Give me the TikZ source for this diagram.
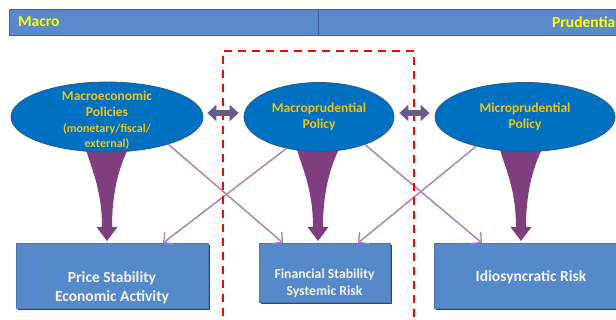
\documentclass[tikz,border=0pt]{standalone}
\usepackage{fontspec}
\setmainfont{Carlito}
\usetikzlibrary{shapes.geometric,arrows.meta,calc}
\definecolor{barblue}{HTML}{5A8ACB}
\definecolor{barline}{HTML}{3E6394}
\definecolor{boxblue}{HTML}{5689C9}
\definecolor{boxline}{HTML}{4A78B0}
\definecolor{boxshadow}{HTML}{2F4A6A}
\definecolor{ellblue}{HTML}{0070C0}
\definecolor{ellline}{HTML}{2A5B8C}
\definecolor{elltext}{HTML}{F2C314}
\definecolor{bartext}{HTML}{FFFF00}
\definecolor{funnelc}{HTML}{7F3F7F}
\definecolor{thinc}{HTML}{B388B8}
\definecolor{dblc}{HTML}{6A5A8C}
\definecolor{boxtext}{HTML}{F4F4F4}
\tikzset{
  bar/.style={fill=barblue, draw=barline, line width=0.8pt, inner sep=0pt, minimum height=26pt, anchor=north west},
  bartxt/.style={text=bartext, font=\fontsize{15.5}{18}\selectfont\bfseries, inner sep=0pt},
  pol/.style={ellipse, fill=ellblue, draw=ellline, line width=0.8pt, inner sep=0pt, text=elltext, align=center, font=\fontsize{13.5}{16}\selectfont\bfseries},
  poltxt/.style={inner sep=0pt, text=elltext, align=center, font=\fontsize{13.5}{16}\selectfont\bfseries},
  goal/.style={fill=boxblue, draw=boxline, line width=0.6pt, inner sep=0pt, anchor=north west},
  goaltxt/.style={text=boxtext, align=center, inner sep=0pt},
  thinarrow/.style={draw=thinc, line width=1.6pt, -{Straight Barb[length=7pt,width=15pt,line width=1.4pt]}},
  dblarrow/.style={draw=dblc, line width=6pt, {Triangle[length=9pt,width=16pt]}-{Triangle[length=9pt,width=16pt]}},
  funnel/.pic={\fill[funnelc] (-22,0) .. controls (-14,25) and (-5,45) .. (-5,80) -- (-10.5,80) -- (0,94) -- (10.5,80) -- (5,80) .. controls (5,45) and (12,20) .. (22,0) -- cycle;}
}
\begin{document}
\begin{tikzpicture}[x=1pt,y=-1pt]
\useasboundingbox (0,0) rectangle (616,320);
% top bars
\node[bar, minimum width=309pt] (b1) at (9,9) {};
\node[bar, minimum width=310pt] (b2) at (318,9) {};
\node[bartxt, anchor=west] (tmacro) at (18,22) {Macro};
\node[bartxt, anchor=east] (tprud) at (615.5,22) {Prudentia};
% funnels
\pic at (107,147) {funnel};
\pic at (318,147) {funnel};
\pic at (521,147) {funnel};
% policies
\node[pol, minimum width=192pt, minimum height=70pt] (L) at (107,117) {};
\node[poltxt] (tL) at (107,120.5) {Macroeconomic\\Policies\\[-0.5pt]{\fontsize{12}{14}\selectfont (monetary/fiscal/}\\[-0.5pt]{\fontsize{12}{14}\selectfont external)}};
\node[pol, minimum width=150pt, minimum height=69pt] (M) at (319,117) {Macroprudential\\Policy};
\node[pol, minimum width=180pt, minimum height=69pt] (R) at (525,117) {Microprudential\\Policy};
% goals
\fill[boxshadow] (18,245) rectangle (210,310);
\node[goal, minimum width=192pt, minimum height=65pt] (GL) at (16,243) {};
\fill[boxshadow] (261,245) rectangle (392,304);
\node[goal, minimum width=131pt, minimum height=59pt] (GM) at (259,243) {};
\fill[boxshadow] (436,245) rectangle (630,310);
\node[goal, minimum width=194pt, minimum height=65pt] (GR) at (434,243) {};
\node[goaltxt, font=\fontsize{15.5}{19}\selectfont\bfseries] (tGL) at (112,287.5) {Price Stability\\Economic Activity};
\node[goaltxt, font=\fontsize{13.7}{17}\selectfont\bfseries] (tGM) at (324.5,283) {Financial Stability\\Systemic Risk};
\node[goaltxt, font=\fontsize{15.5}{19}\selectfont\bfseries] (tGR) at (531,277) {Idiosyncratic Risk};
% thin arrows
\draw[thinarrow] (L.-24) -- ($(GM.north west)+(24,0)$);
\draw[thinarrow] (M.-136) -- ($(GL.north west)+(147,0)$);
\draw[thinarrow] (M.-31) -- ($(GR.north west)+(48,0)$);
\draw[thinarrow] (R.-149) -- ($(GM.north west)+(99,0)$);
% red dashed frame
\draw[red, line width=2pt, dash pattern=on 8pt off 6pt] (223,330) -- (223,51) -- (414,51) -- (414,330);
% double arrows
\draw[dblarrow] ($(L.east)+(4,-4)$) -- ($(M.west)+(-5,-4)$);
\draw[dblarrow] ($(M.east)+(5,-4)$) -- ($(R.west)+(-5,-4)$);
\end{tikzpicture}
\end{document}
